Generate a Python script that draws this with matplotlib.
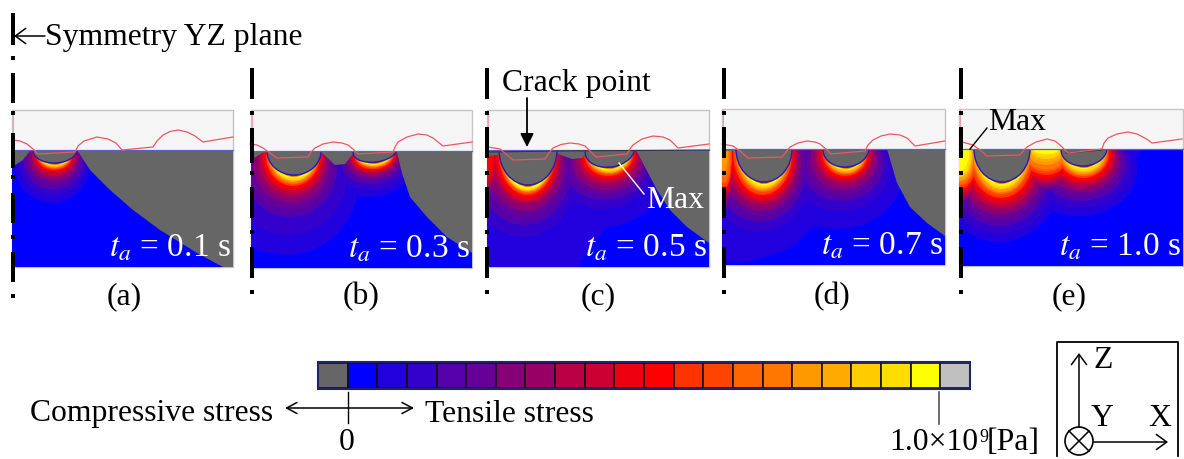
import matplotlib
matplotlib.use("Agg")
import matplotlib.pyplot as plt
from matplotlib.patches import Ellipse, Polygon, Rectangle, Circle

plt.rcParams['font.family'] = ['Liberation Serif', 'DejaVu Serif']
plt.rcParams['mathtext.fontset'] = 'stix'

# ---------- colour scale ----------
SCALE_COLORS = ['#666666', '#0000ff', '#2200dd', '#3300cc', '#5500aa', '#660099', '#880077',
                '#990066', '#bb0044', '#cc0033', '#ee0011', '#ff0000', '#ff3300', '#ff4400',
                '#ff6600', '#ff7700', '#ff9900', '#ffaa00', '#ffcc00', '#ffdd00', '#ffff00', '#c0c0c0']
BAND_COLORS = SCALE_COLORS[2:21]
RIM_COLORS = ['#ff7700', '#cc0033']
RIM_THICK = [2.0, 1.0]

# ---------- panels ----------
PANEL_LABELS = ['(a)', '(b)', '(c)', '(d)', '(e)']
PANEL_LABEL_X = [124, 361, 598, 832, 1069]
TIME_LABELS = ['0.1', '0.3', '0.5', '0.7', '1.0']
PANEL_X = [(12, 233), (251, 472), (487, 709), (722, 945), (959, 1183)]
PANEL_TOP = [110, 110, 110, 109, 109]
PANEL_SURFACE = [150, 151, 150, 149, 149]
PANEL_BOTTOM = [267, 268, 267, 265, 266]
DASH_X = [13, 252, 487, 724, 961]

# sources: cx, half width, depth, angle, width gain, centre drop, x drift, grey?, band thickness
THICK_A = [40, 33, 27, 22, 18, 15, 13, 11, 9, 8, 7, 6, 5.5, 5, 4.5, 4, 3.5, 3, 2.5]
THICK_B1 = [80, 60, 42, 35, 28, 23, 20, 17, 15, 13, 11, 10, 9, 8, 7, 6, 5.5, 5, 3.5]
THICK_B2 = [35, 28, 22, 18, 15, 13, 11, 10, 9, 8, 7, 6, 5.5, 5, 4.5, 4, 3.5, 3, 2.5]
THICK_C1 = [75, 52, 40, 32, 26, 21, 18, 16, 14, 12, 10, 9, 8, 7, 6.5, 6, 5.5, 5, 4]
THICK_C2 = [60, 42, 33, 27, 23, 19, 16, 14, 12, 10, 9, 8, 7, 6.5, 6, 5, 4.5, 4, 3]
THICK_D1 = [75, 50, 40, 34, 29, 25, 22, 19, 17, 15, 13, 12, 10, 9, 8, 7, 6, 5, 3.5]
THICK_D2 = [62, 44, 34, 28, 23, 19, 16, 14, 12, 11, 9, 8, 7, 6.5, 6, 5, 4, 3.5, 2.5]
THICK_E1 = [60, 52, 44, 38, 33, 29, 26, 23, 20, 18, 16, 14, 12, 11, 10, 8, 7, 6, 4]
THICK_E2 = [50, 42, 35, 30, 26, 23, 20, 18, 16, 14, 12, 11, 10, 9, 8, 7, 6, 5, 3]
EDGE_C = [60, 54, 48, 44, 40, 36, 33, 30, 27, 22, 0, 0, 0, 0, 0, 0, 0, 0, 0]
EDGE_D = [70, 64, 58, 54, 50, 47, 44, 42, 40, 38, 36, 34, 30, 24, 18, 0, 0, 0, 0]
EDGE_E = [66, 60, 56, 52, 50, 48, 46, 44, 42, 40, 38, 36, 34, 32, 30, 28, 26, 24, 20]
MID_E = [46, 43, 40, 38, 36, 34, 32, 30, 28, 26, 24, 22, 20, 18, 14, 11, 8, 5, 3]

SOURCES = [
    [(55, 22, 13, -2, .55, .40, -.07, True, THICK_A)],
    [(294, 27, 24, 0, .65, .40, -.10, True, THICK_B1),
     (375, 22, 11, -7, .75, .50, -.10, True, THICK_B2)],
    [(528, 29, 35, 0, .65, .40, -.10, True, THICK_C1),
     (610, 25, 17, -10, .75, .45, -.10, True, THICK_C2),
     (487, 7, 4, 0, .28, .20, 0, False, EDGE_C)],
    [(764, 28, 33, 0, .65, .40, -.10, True, THICK_D1),
     (846, 23, 18, -6, .75, .45, -.10, True, THICK_D2),
     (724, 7, 4, 0, .22, .20, 0, False, EDGE_D)],
    [(1002, 28, 33, 0, .70, .40, -.05, True, THICK_E1),
     (1084, 23, 17, -5, .80, .45, -.05, True, THICK_E2),
     (960, 7, 2, 0, .45, .20, 0, False, EDGE_E),
     (1046, 18, 2, 0, .45, .30, 0, False, MID_E)],
]

# low stress regions: (band index, outline)
FAR_A = []
FAR_B = []
FAR_C = [(0, [(487, 150), (487, 267), (577, 267), (600, 235), (637, 183), (636, 150)])]
FAR_D = [(0, [(724, 262), (750, 262), (777, 253), (810, 230), (843, 207), (870, 183), (883, 149), (724, 149)]),
         (1, [(724, 212), (755, 214), (793, 210), (827, 193), (860, 170), (875, 149), (724, 149)])]
FAR_E = [(0, [(960, 222), (993, 220), (1043, 207), (1077, 197), (1110, 183), (1130, 167), (1142, 149), (960, 149)]),
         (1, [(960, 205), (1000, 205), (1045, 193), (1080, 185), (1115, 168), (1125, 149), (960, 149)])]
FAR = [FAR_A, FAR_B, FAR_C, FAR_D, FAR_E]

# compressive (grey) regions
GREY_A = [[(77, 150), (90, 170), (110, 190), (133, 210), (160, 230), (197, 253), (223, 267), (233, 267), (233, 150)],
          [(12, 150), (30, 151), (23, 160), (12, 167)]]
GREY_B = [[(397, 152), (402, 173), (410, 197), (427, 217), (447, 237), (472, 253), (472, 151)],
          [(251, 151), (251, 160), (262, 153), (268, 151)],
          [(320, 151), (335, 165), (345, 164), (352, 155), (358, 151)]]
GREY_C = [[(636, 150), (645, 167), (657, 190), (670, 210), (687, 227), (709, 243), (709, 150)],
          [(487, 150), (487, 156), (499, 155), (501, 150)],
          [(556, 150), (558, 154), (572, 159), (582, 158), (585, 155), (587, 150)]]
GREY_D = [[(887, 149), (897, 183), (910, 207), (927, 223), (945, 236), (945, 149)],
          [(724, 149), (724, 151), (740, 151), (740, 149)]]
GREY_E = [[(1065, 149), (1065, 150), (1124, 150), (1124, 149)]]
GREY = [GREY_A, GREY_B, GREY_C, GREY_D, GREY_E]

# deformed outline above the surface
RED_A = [(13, 140), (20, 141), (27, 144), (33, 149), (38, 154), (75, 152), (78, 146), (84, 141), (97, 137), (108, 139), (116, 143), (122, 150), (153, 147), (157, 141), (163, 135), (170, 131.5), (178, 130), (187, 132), (195, 136), (203, 142), (233, 137)]
RED_B = [(250, 144), (257, 145), (263, 148), (270, 153), (277, 158), (308, 157), (311, 152), (315, 148), (323, 144), (333, 142), (342, 143), (348, 145), (353, 149), (358, 154), (393, 152), (395, 147), (398, 142), (407, 137), (418, 134), (427, 135), (433, 138), (438, 142), (443, 146), (472, 142)]
RED_C = [(488, 147), (500, 149), (506, 154), (513, 160), (545, 159), (549, 153), (553, 148), (561, 144.5), (570, 143), (579, 144), (585, 146), (590, 151), (596, 157), (627, 154), (630, 149), (633, 145), (642, 139), (653, 136), (663, 137), (670, 140), (674, 144), (678, 148), (709, 144)]
RED_D = [(722, 144), (733, 146), (740, 151), (748, 158), (782, 157), (786, 152), (790, 147), (798, 143), (807, 141), (815, 142), (820, 144), (826, 149), (831, 154), (865, 151), (868, 145), (873, 140), (881, 136), (890, 134), (900, 135), (907, 138), (911, 142), (915, 146), (945, 141)]
RED_E = [(962, 142), (973, 145), (980, 150), (987, 156), (1020, 155), (1023, 151), (1027, 147), (1036, 142), (1047, 139), (1055, 141), (1060, 145), (1064, 149), (1068, 153), (1102, 149), (1104, 143), (1108, 138), (1117, 134), (1128, 132), (1137, 134), (1143, 137), (1148, 140), (1152, 143), (1182, 139)]
RED = [RED_A, RED_B, RED_C, RED_D, RED_E]

# thin dark creases near the surface
CREASES = [[], [], [[(488, 152), (560, 151), (709, 150)]], [], [[(1066, 153), (1102, 150)]]]

# dash-dot symmetry lines: long dashes and dots
DASHES = [[(13, 45), (73, 103), (133, 168), (193, 223), (252, 282)],
          [(68, 99), (128, 163), (187, 218), (247, 278)],
          [(68, 99), (127, 158), (187, 218), (247, 278)],
          [(68, 99), (127, 158), (187, 218), (247, 278)],
          [(68, 99), (127, 158), (187, 218), (247, 278)]]
DOTS = [[58, 113, 177, 237, 296],
        [113, 173, 232, 292],
        [113, 173, 232, 292],
        [113, 173, 232, 292],
        [113, 173, 232, 292]]

# ---------- drawing ----------
fig = plt.figure(figsize=(11.84, 4.59), dpi=100)
ax = fig.add_axes([0, 0, 1, 1])
ax.set_xlim(0, 1184)
ax.set_ylim(459, 0)
ax.axis('off')


def band(cx, w, d, ang, a, b, e, t, surf, col, z, clip):
    el = Ellipse((cx + e * t, surf + b * t), 2 * (w - 7 + a * t), 2 * (d + t - b * t),
                 angle=ang, fc=col, ec='none', zorder=z)
    ax.add_patch(el)
    el.set_clip_path(clip)


FS = 22.8
for i in range(5):
    x0, x1 = PANEL_X[i]
    top, surf, bot = PANEL_TOP[i], PANEL_SURFACE[i], PANEL_BOTTOM[i]
    ax.add_patch(Rectangle((x0, top), x1 - x0, bot - top, fc='#f5f5f5', ec='#c4c4c4', lw=1, zorder=1))
    clip = Rectangle((x0, surf), x1 - x0, bot - surf, transform=ax.transData)
    ax.add_patch(Rectangle((x0, surf), x1 - x0, bot - surf, fc='#0000ff', ec='none', zorder=2))
    for level, col in enumerate(BAND_COLORS):
        z = 3 + level * 0.01
        for lv, pts in FAR[i]:
            if lv == level:
                p = Polygon(pts, closed=True, fc=col, ec='none', zorder=z)
                ax.add_patch(p)
                p.set_clip_path(clip)
        for cx, w, d, ang, a, b, e, grey, th in SOURCES[i]:
            if th[level] > 0:
                band(cx, w, d, ang, a, b, e, th[level], surf, col, z, clip)
    for cx, w, d, ang, a, b, e, grey, th in SOURCES[i]:
        if grey:
            for n, col in enumerate(RIM_COLORS):
                band(cx, w, d, ang, a, b, e, RIM_THICK[n], surf, col, 3.5 + n * 0.01, clip)
    for pts in GREY[i]:
        p = Polygon(pts, closed=True, fc='#666666', ec='none', zorder=4)
        ax.add_patch(p)
        p.set_clip_path(clip)
    for cx, w, d, ang, a, b, e, grey, th in SOURCES[i]:
        if grey:
            el = Ellipse((cx, surf), 2 * w, 2 * d, angle=ang, fc='#666666', ec='#2a18b8', lw=1, zorder=4.5)
            ax.add_patch(el)
            el.set_clip_path(clip)
    ax.plot([x0, x1], [surf, surf], color='#5a62c8', lw=0.9, zorder=5)
    for crease in CREASES[i]:
        ax.plot([p[0] for p in crease], [p[1] for p in crease], color='#333344', lw=0.8, zorder=5.5)
    xs = [p[0] for p in RED[i]]
    ys = [p[1] for p in RED[i]]
    ax.plot(xs, ys, color='#ee5566', lw=0.9, zorder=6)
    ax.plot([x0 + 1, x0 + 1], [top, ys[0]], color='#f0a0b0', lw=0.8, zorder=6)
    ax.text(x1 - 2, bot - 19, '$t_a$ = ' + TIME_LABELS[i] + ' s', color='white', fontsize=24,
            ha='right', va='center', zorder=8)
    ax.text(PANEL_LABEL_X[i], 297, PANEL_LABELS[i], fontsize=FS, ha='center', va='center', zorder=8)
    for y0, y1 in DASHES[i]:
        ax.add_patch(Rectangle((DASH_X[i] - 2, y0), 4, y1 - y0, fc='black', ec='none', zorder=7))
    for y in DOTS[i]:
        ax.add_patch(Rectangle((DASH_X[i] - 2, y - 2), 4, 4, fc='black', ec='none', zorder=7))

arrow = dict(arrowstyle='->,head_length=0.75,head_width=0.55', lw=1.1, color='black', shrinkA=0, shrinkB=0)
ax.annotate('', xy=(14, 36), xytext=(45, 36), arrowprops=arrow)
ax.text(45, 38, 'Symmetry YZ plane', fontsize=FS, va='center', ha='left')
ax.text(502, 84, 'Crack point', fontsize=FS, va='center', ha='left')
ax.annotate('', xy=(527, 147), xytext=(527, 98),
            arrowprops=dict(arrowstyle='-|>,head_length=0.8,head_width=0.4', lw=1.3, color='black',
                            shrinkA=0, shrinkB=0), zorder=8)
ax.plot([619, 644], [163, 194], color='white', lw=1, zorder=8)
ax.text(646, 200, 'Max', color='white', fontsize=FS, va='center', ha='left', zorder=8)
ax.plot([970, 987], [149, 128], color='black', lw=1, zorder=8)
ax.text(988, 122, 'Max', fontsize=FS, va='center', ha='left', zorder=8)

# colour bar
BAR_X0, BAR_X1, BAR_Y0, BAR_Y1 = 318, 970, 362, 389
cell = (BAR_X1 - BAR_X0) / len(SCALE_COLORS)
ax.add_patch(Rectangle((BAR_X0, BAR_Y0), BAR_X1 - BAR_X0, BAR_Y1 - BAR_Y0, fc='none', ec='#222266', lw=1.5, zorder=3))
for k, col in enumerate(SCALE_COLORS):
    ax.add_patch(Rectangle((BAR_X0 + k * cell, BAR_Y0 + 1), cell, BAR_Y1 - BAR_Y0 - 2, fc=col, ec='#111111', lw=1.2, zorder=2))

ax.plot([348, 348], [392, 423], color='black', lw=1)
ax.plot([939, 939], [392, 424], color='#555555', lw=1.2)
both = dict(arrowstyle='<->,head_length=0.75,head_width=0.4', lw=1.1, color='black', shrinkA=0, shrinkB=0)
ax.annotate('', xy=(285, 408), xytext=(414, 408), arrowprops=both)
ax.text(30, 414, 'Compressive stress', fontsize=FS, va='center', ha='left')
ax.text(425, 414, 'Tensile stress', fontsize=FS, va='center', ha='left')
ax.text(347, 443, '0', fontsize=FS, va='center', ha='center')
ax.text(889, 443, '1.0×10', fontsize=FS, va='center', ha='left')
ax.text(979.5, 437, '9', fontsize=13, va='center', ha='left')
ax.text(1040, 443, '[Pa]', fontsize=FS, va='center', ha='right')

# axes key
ax.plot([1057, 1057, 1178, 1178], [456, 342, 342, 456], color='black', lw=1.3)
ax.annotate('', xy=(1079, 353), xytext=(1079, 427), arrowprops=arrow)
ax.annotate('', xy=(1168, 442), xytext=(1094, 442), arrowprops=arrow)
ax.add_patch(Circle((1079, 441), 14, fc='none', ec='black', lw=1.2))
ax.plot([1069, 1089], [431, 451], color='black', lw=1.1)
ax.plot([1069, 1089], [451, 431], color='black', lw=1.1)
ax.text(1103, 360, 'Z', fontsize=FS, va='center', ha='center')
ax.text(1102, 418, 'Y', fontsize=FS, va='center', ha='center')
ax.text(1160, 418, 'X', fontsize=FS, va='center', ha='center')

fig.savefig('out.png', dpi=100)
